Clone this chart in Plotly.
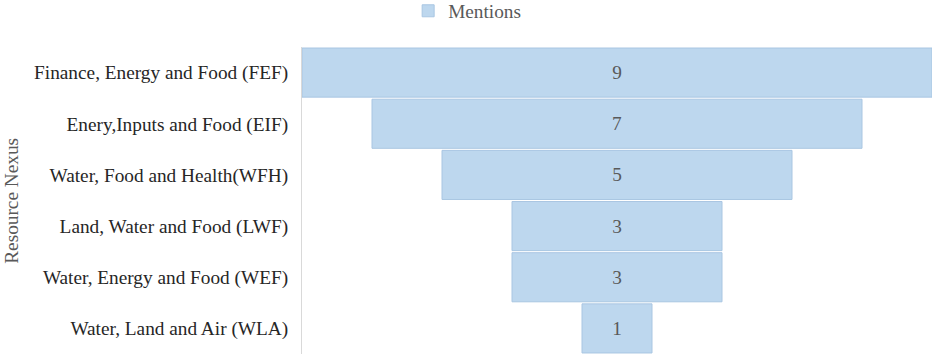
import plotly.graph_objects as go

categories = [
    "Finance, Energy and Food (FEF)",
    "Enery,Inputs and Food (EIF)",
    "Water, Food and Health(WFH)",
    "Land, Water and Food (LWF)",
    "Water, Energy and Food (WEF)",
    "Water, Land and Air (WLA)",
]
mentions = [9, 7, 5, 3, 3, 1]

SERIF = "'Liberation Serif', 'Times New Roman', Times, serif"
FS = 19.3

fig = go.Figure()
fig.add_trace(go.Funnel(
    y=categories,
    x=mentions,
    name="Mentions",
    showlegend=True,
    textinfo="value",
    textposition="inside",
    insidetextfont=dict(family=SERIF, size=FS, color="#595959"),
    marker=dict(color="#BDD7EE", line=dict(color="#A9C6E2", width=1)),
    connector=dict(visible=False),
))

fig.update_layout(
    width=935, height=358,
    margin=dict(l=302, r=3, t=47, b=4, autoexpand=False),
    paper_bgcolor="white", plot_bgcolor="white",
    font=dict(family=SERIF, size=FS, color="#262626"),
    funnelgap=0.04,
    showlegend=True,
    legend=dict(orientation="h", xref="paper", yref="paper",
                x=0.1685, xanchor="left", y=1.18, yanchor="top",
                font=dict(family=SERIF, size=FS, color="#595959")),
    xaxis=dict(visible=False, range=[-4.5, 4.5]),
    yaxis=dict(showline=True, linecolor="#D9D9D9", linewidth=1,
               ticks="", ticklabelstandoff=9, range=[5.5, -0.5],
               autorange=False,
               tickfont=dict(family=SERIF, size=FS, color="#262626")),
    annotations=[dict(text="Resource Nexus", textangle=-90,
                      xref="paper", x=-0.4615, yref="paper", y=0.5,
                      xanchor="center", yanchor="middle", showarrow=False,
                      font=dict(family=SERIF, size=FS, color="#595959"))],
)

fig.write_html("out.html", config={"displayModeBar": False},
               post_script="document.body.style.margin='0px';")
